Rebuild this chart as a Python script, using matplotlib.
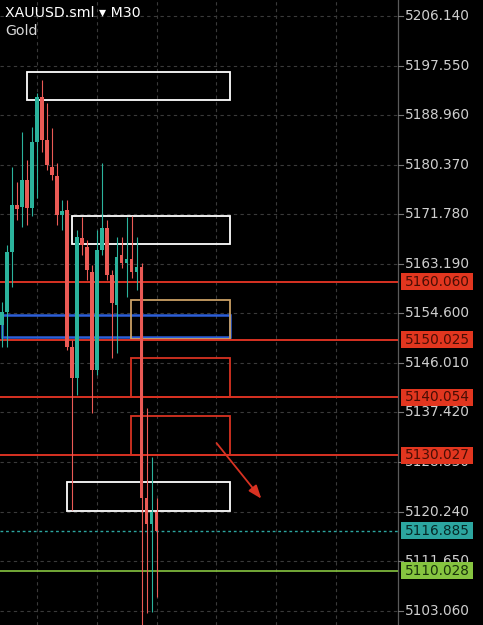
import matplotlib
matplotlib.use("Agg")
import matplotlib.pyplot as plt
from matplotlib.patches import Rectangle, FancyArrowPatch
from matplotlib.transforms import blended_transform_factory

# ---------------- data ----------------
symbol_title = "XAUUSD.sml ▾ M30"
symbol_name = "Gold"

opens  = [5152.6, 5154.8, 5165.2, 5173.4, 5173.0, 5177.7, 5172.9, 5184.3, 5192.1, 5184.7,
          5180.0, 5178.4, 5171.7, 5172.5, 5148.8, 5143.4, 5167.7, 5166.1, 5161.8, 5144.8,
          5165.6, 5169.4, 5161.3, 5156.1, 5164.7, 5163.3, 5164.0, 5161.8, 5162.6, 5122.6,
          5118.1, 5120.2]
highs  = [5156.6, 5166.5, 5180.0, 5177.4, 5186.0, 5181.2, 5186.9, 5192.8, 5195.1, 5191.1,
          5186.7, 5180.7, 5174.3, 5174.3, 5150.0, 5169.1, 5171.3, 5167.3, 5163.0, 5169.1,
          5180.7, 5170.8, 5162.1, 5167.8, 5167.8, 5171.3, 5171.5, 5167.8, 5163.3, 5138.2,
          5129.7, 5122.6]
lows   = [5148.8, 5148.8, 5159.2, 5170.8, 5169.6, 5169.9, 5171.5, 5174.6, 5182.6, 5179.5,
          5177.7, 5169.9, 5169.1, 5148.3, 5120.5, 5140.5, 5164.7, 5160.4, 5137.3, 5143.9,
          5164.7, 5160.4, 5146.9, 5147.7, 5162.5, 5157.4, 5160.7, 5158.7, 5099.7, 5102.7,
          5102.9, 5105.5]
closes = [5154.8, 5165.2, 5173.4, 5172.7, 5177.7, 5172.9, 5184.3, 5192.1, 5184.7, 5180.3,
          5178.6, 5171.7, 5172.3, 5148.8, 5143.4, 5167.8, 5166.5, 5162.1, 5144.8, 5165.6,
          5169.4, 5161.3, 5156.4, 5164.4, 5163.3, 5164.0, 5161.8, 5162.6, 5122.6, 5118.1,
          5120.2, 5116.885]

tick_values = [5206.140, 5197.550, 5188.960, 5180.370, 5171.780, 5163.190, 5154.600,
               5146.010, 5137.420, 5128.830, 5120.240, 5111.650, 5103.060]

red_levels = [5160.060, 5150.025, 5140.054, 5130.027]
current_price = 5116.885
green_level = 5110.028

# zones: (x_start, x_end, price_low, price_high)
white_zones = [(5, 45.8, 5191.6, 5196.4), (14, 45.8, 5166.6, 5171.5), (13, 45.8, 5120.4, 5125.4)]
tan_zone = (25.9, 45.8, 5150.2, 5156.9)
red_zones = [(25.9, 45.8, 5140.054, 5146.9), (25.9, 45.8, 5130.027, 5136.8)]
blue_zone = (0, 45.8, 5150.5, 5154.3)
arrow_start = (42.7, 5132.5)
arrow_end = (52.4, 5122.1)

# ---------------- style ----------------
BG = "black"
UP = "#2bb39c"
DOWN = "#ea5a55"
RED = "#d83222"
REDBOX = "#e2361f"
TEAL = "#2ca6a0"
GREEN = "#86c440"
BLUE = "#2d5fd8"
TAN = "#caa065"
GRID = "#3a3a3a"
TXT = "#cfcfcf"

W, H = 483, 625
fig = plt.figure(figsize=(W / 100, H / 100), dpi=100, facecolor=BG)
ax_right_px = 398
ax = fig.add_axes([0, 0, ax_right_px / W, 1])
ax.set_facecolor(BG)
ax.set_xlim(-0.44, 79.5)
ax.set_ylim(5100.59, 5208.91)
for s in ax.spines.values():
    s.set_visible(False)
ax.set_xticks([])
ax.set_yticks([])

# grid
for gx in [7, 19, 31, 43, 55, 67]:
    ax.axvline(gx, color=GRID, lw=0.8, ls=(0, (3, 3)), zorder=0)
for tv in tick_values:
    ax.axhline(tv, color=GRID, lw=0.8, ls=(0, (3, 3)), zorder=0)

# zones
def rect(z, color, lw, zo=3):
    x0, x1, y0, y1 = z
    ax.add_patch(Rectangle((x0, y0), x1 - x0, y1 - y0, fill=False, edgecolor=color,
                           lw=lw, zorder=zo))

for z in white_zones:
    rect(z, "white", 1.3, 4)
rect(blue_zone, BLUE, 1.8, 3)
rect(tan_zone, TAN, 1.3, 3)
for z in red_zones:
    rect(z, RED, 1.3, 3)

# horizontal levels
for lv in red_levels:
    ax.axhline(lv, color=RED, lw=1.4, zorder=3)
ax.axhline(current_price, color=TEAL, lw=1.0, ls=(0, (2, 2)), zorder=3)
ax.axhline(green_level, color=GREEN, lw=1.2, zorder=3)

# candles
for i, (o, h, l, c) in enumerate(zip(opens, highs, lows, closes)):
    col = UP if c >= o else DOWN
    ax.vlines(i, l, h, color=col, lw=0.8, zorder=5)
    ax.bar(i, abs(c - o), bottom=min(o, c), width=0.72, color=col, zorder=6, linewidth=0)

# arrow
ax.add_patch(FancyArrowPatch(arrow_start, arrow_end, arrowstyle="-|>,head_length=8,head_width=3",
                             color=RED, lw=1.3, zorder=7, mutation_scale=1))

# right price axis
tr = blended_transform_factory(ax.transAxes, ax.transData)
ax.plot([1.0, 1.0], [0, 1], transform=ax.transAxes, color="#5a5a5a", lw=0.9, clip_on=False)
lx = 405 / ax_right_px
for tv in tick_values:
    ax.plot([1.0, 403 / ax_right_px], [tv, tv], transform=tr, color="#777777", lw=0.8, clip_on=False)
    ax.text(lx, tv, f"{tv:.3f}", transform=tr, color=TXT, fontsize=9.8, va="center",
            ha="left", clip_on=False, zorder=8)

box_x0 = 401 / ax_right_px
box_w = 72 / ax_right_px
box_h = 2.95
labels = [(v, REDBOX, "#4a0e04") for v in red_levels] + \
         [(current_price, TEAL, "#062a28"), (green_level, GREEN, "#18320a")]
for v, fc, tc in labels:
    ax.add_patch(Rectangle((box_x0, v - box_h / 2), box_w, box_h, transform=tr, facecolor=fc,
                           edgecolor="none", clip_on=False, zorder=9))
    ax.text(lx, v, f"{v:.3f}", transform=tr, color=tc, fontsize=9.8, va="center", ha="left",
            clip_on=False, zorder=10)

# header
fig.text(5 / W, 1 - 13 / H, symbol_title, color="white", fontsize=10.2, va="center", ha="left")
fig.text(5 / W, 1 - 31 / H, symbol_name, color="#d8d8d8", fontsize=10.2, va="center", ha="left")

fig.savefig("out.png", dpi=100, facecolor=BG)
